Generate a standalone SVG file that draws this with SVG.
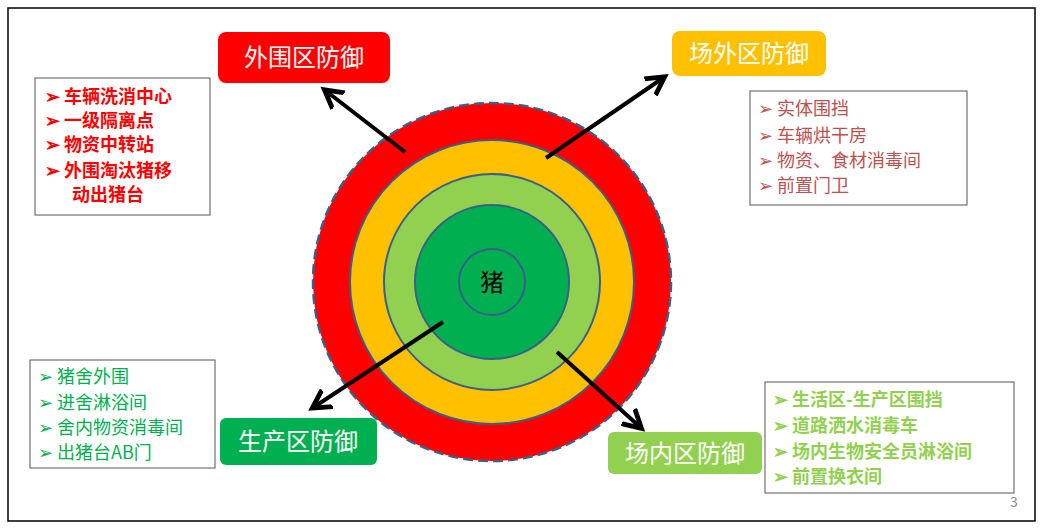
<svg xmlns="http://www.w3.org/2000/svg" width="1042" height="532" viewBox="0 0 1042 532">
<style>
.t{font-family:"Noto Sans CJK SC","Liberation Sans",sans-serif}
.lab{font-size:24px;fill:#fff}
.li{font-size:18px;font-weight:bold}
.box{fill:#fff;stroke:#555;stroke-width:1}
.ring{stroke:#3a5f8a;stroke-width:2}
</style>
<defs><marker id="ah" markerWidth="6" markerHeight="6" refX="4" refY="3" orient="auto" markerUnits="strokeWidth"><path d="M0,0.5 L4.5,3 L0,5.5" fill="none" stroke="#000" stroke-width="1.2"/></marker></defs>
<rect x="8" y="8" width="1027" height="513" fill="#fff" stroke="#000" stroke-width="1.5"/>
<g id="rings">
<circle cx="492" cy="282" r="179" fill="#ff0000" stroke="#3a5f8a" stroke-width="2.5" stroke-dasharray="10 5"/>
<circle cx="492" cy="282" r="142" fill="#ffc000" class="ring"/>
<circle cx="492" cy="282" r="108" fill="#92d050" class="ring"/>
<circle cx="492" cy="282" r="77" fill="#00b050" class="ring"/>
<circle cx="492" cy="282" r="33" fill="#00b050" class="ring"/>
<text x="492" y="291" text-anchor="middle" class="t" font-size="24">猪</text>
</g>
<g id="connectors" stroke="#000" stroke-width="4" fill="none" marker-end="url(#ah)">
<line x1="405" y1="152" x2="326" y2="91"/>
<line x1="546" y1="158" x2="663" y2="78"/>
<line x1="443" y1="322" x2="314" y2="407"/>
<line x1="557" y1="352" x2="640" y2="427"/>
</g>
<g id="outer">
<rect x="218" y="32" width="172" height="51" rx="8" fill="#ff0000"/>
<text x="304" y="66" text-anchor="middle" class="t lab">外围区防御</text>
<rect x="35" y="78" width="175" height="137" class="box"/>
<g class="t li" fill="#ff0000">
<text x="45" y="103">➢ 车辆洗消中心</text>
<text x="45" y="127">➢ 一级隔离点</text>
<text x="45" y="151">➢ 物资中转站</text>
<text x="45" y="177">➢ 外围淘汰猪移</text>
<text x="72" y="201">动出猪台</text>
</g>
</g>
<g id="field-out">
<rect x="672" y="31" width="154" height="45" rx="8" fill="#ffc000"/>
<text x="749" y="62" text-anchor="middle" class="t lab">场外区防御</text>
<rect x="750" y="91" width="217" height="114" class="box"/>
<g class="t" font-size="18" fill="#c0504d">
<text x="758" y="115">➢ 实体围挡</text>
<text x="758" y="142">➢ 车辆烘干房</text>
<text x="758" y="167">➢ 物资、食材消毒间</text>
<text x="758" y="192">➢ 前置门卫</text>
</g>
</g>
<g id="prod">
<rect x="220" y="418" width="157" height="47" rx="6" fill="#00b050"/>
<text x="298" y="450" text-anchor="middle" class="t lab">生产区防御</text>
<rect x="30" y="360" width="185" height="108" class="box"/>
<g class="t" font-size="18" fill="#00b050">
<text x="38" y="383">➢ 猪舍外围</text>
<text x="38" y="409">➢ 进舍淋浴间</text>
<text x="38" y="434">➢ 舍内物资消毒间</text>
<text x="38" y="459">➢ 出猪台AB门</text>
</g>
</g>
<g id="field-in">
<rect x="608" y="432" width="154" height="42" rx="6" fill="#92d050"/>
<text x="685" y="462" text-anchor="middle" class="t lab">场内区防御</text>
<rect x="765" y="382" width="249" height="111" class="box"/>
<g class="t li" fill="#92d050">
<text x="773" y="406">➢ 生活区-生产区围挡</text>
<text x="773" y="432">➢ 道路洒水消毒车</text>
<text x="773" y="458">➢ 场内生物安全员淋浴间</text>
<text x="773" y="483">➢ 前置换衣间</text>
</g>
</g>
<text x="1010" y="507" class="t" font-size="14" fill="#888">3</text>
</svg>
